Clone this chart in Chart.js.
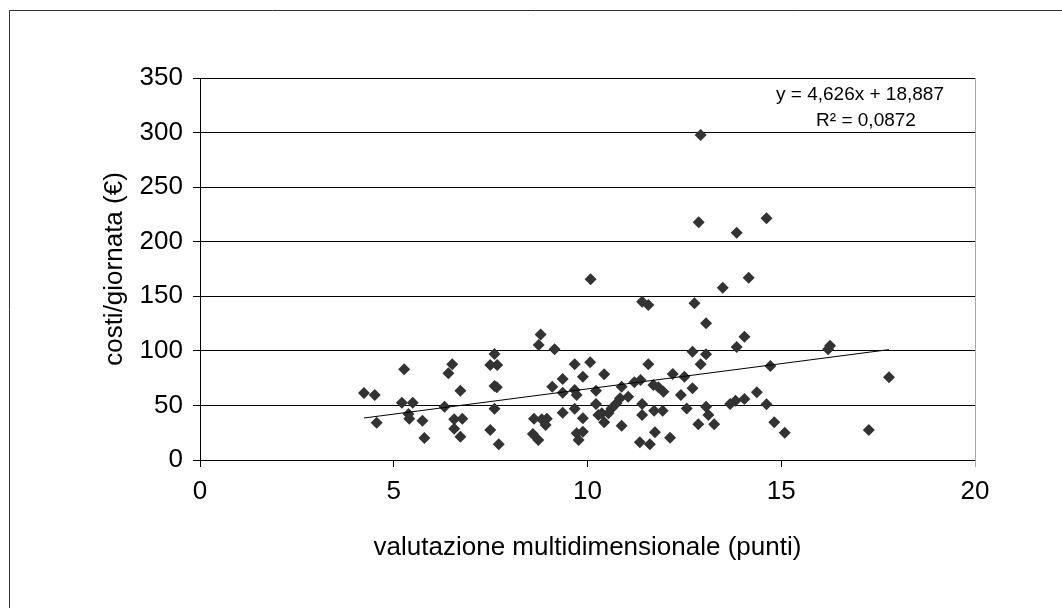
<!DOCTYPE html>
<html>
<head>
<meta charset="utf-8">
<script src="https://cdn.jsdelivr.net/npm/chart.js@4.4.0/dist/chart.umd.min.js"></script>
<style>
  html, body { margin: 0; padding: 0; background: #fff; }
</style>
</head>
<body>
<canvas id="chart" width="1062" height="608"></canvas>
<script>
// valutazione multidimensionale (punti)
const punteggi = [
    4.23, 4.51, 4.56, 5.27, 5.21, 5.49, 5.38, 5.40, 5.74, 5.79,
    6.31, 6.41, 6.51, 6.72, 6.56, 6.77, 6.56, 6.72, 7.60, 7.49,
    7.67, 7.60, 7.66, 7.60, 7.49, 7.71, 8.79, 8.74, 9.15, 9.67,
    9.88, 9.36, 9.09, 9.36, 9.67, 9.72, 9.67, 9.36, 9.88, 8.62,
    8.82, 8.95, 8.92, 8.59, 8.73, 9.72, 9.88, 9.77, 11.41, 11.57,
    12.76, 13.06, 14.05, 13.85, 12.71, 13.06, 12.92, 10.07, 10.43, 11.57,
    14.72, 12.20, 12.50, 11.21, 11.37, 10.88, 11.70, 11.83, 11.96, 12.71,
    12.41, 14.37, 14.05, 13.82, 13.68, 14.62, 10.22, 10.22, 10.84, 11.05,
    10.75, 10.62, 10.54, 10.37, 10.28, 10.43, 11.41, 11.41, 11.72, 11.94,
    12.56, 13.06, 13.12, 12.86, 13.27, 10.88, 14.82, 11.74, 11.35, 11.61,
    12.13, 16.26, 16.21, 17.78, 15.09, 17.26, 12.92, 12.87, 14.62, 13.85,
    10.08, 14.16, 13.49
];

// costi/giornata (€)
const costi = [
    61.4, 59.6, 34.2, 83.1, 52.5, 52.5, 42.1, 37.9, 36.0, 20.2,
    48.9, 79.4, 87.7, 63.5, 37.3, 37.9, 28.7, 21.4, 97.1, 87.0,
    87.0, 67.8, 66.6, 47.0, 27.5, 14.4, 115.1, 105.4, 101.4, 87.7,
    76.3, 74.2, 67.2, 61.7, 64.1, 59.6, 47.0, 43.4, 38.2, 37.9,
    37.3, 37.9, 32.1, 23.8, 18.3, 24.4, 25.9, 18.3, 145.0, 142.0,
    143.6, 125.2, 113.0, 103.5, 99.2, 96.8, 87.7, 89.5, 78.5, 87.7,
    86.1, 78.8, 76.3, 71.2, 73.3, 67.2, 68.7, 66.6, 62.6, 65.7,
    59.6, 62.0, 55.9, 54.4, 51.3, 51.0, 63.5, 51.3, 56.5, 58.0,
    51.9, 47.3, 42.8, 42.8, 41.2, 34.5, 51.3, 41.2, 45.2, 45.2,
    47.3, 48.8, 41.2, 32.7, 32.7, 31.4, 34.5, 25.4, 16.2, 14.4,
    20.4, 104.7, 101.4, 75.8, 25.0, 27.5, 297.8, 217.8, 221.4, 208.3,
    165.6, 167.0, 157.9
];

// axis ticks
const xTicks = [0, 5, 10, 15, 20];
const yTicks = [0, 50, 100, 150, 200, 250, 300, 350];

// linear trendline as shown on the chart
const trendSlope = 4.626;
const trendIntercept = 18.887;
const trendLabel = ['y = 4,626x + 18,887', 'R² = 0,0872'];

const FONT = "'Liberation Sans', Arial, sans-serif";

const points = punteggi.map((x, i) => ({ x: x, y: costi[i] }));
const xMin = Math.min(...punteggi);
const xMax = Math.max(...punteggi);
const trend = [xMin, xMax].map(x => ({ x: x, y: trendSlope * x + trendIntercept }));

// white background + outer frame
const framePlugin = {
    id: 'frame',
    beforeDraw(chart) {
        const ctx = chart.ctx;
        ctx.save();
        ctx.fillStyle = '#fff';
        ctx.fillRect(0, 0, chart.width, chart.height);
        ctx.strokeStyle = '#333';
        ctx.lineWidth = 1;
        ctx.beginPath();
        ctx.moveTo(9.5, chart.height);
        ctx.lineTo(9.5, 10.5);
        ctx.lineTo(chart.width, 10.5);
        ctx.stroke();
        ctx.restore();
    },
    afterDraw(chart) {
        const ctx = chart.ctx;
        const a = chart.chartArea;
        ctx.save();
        // right border of plot area
        ctx.strokeStyle = '#a8a8a8';
        ctx.lineWidth = 1;
        ctx.beginPath();
        ctx.moveTo(Math.round(a.right) + 0.5, a.top);
        ctx.lineTo(Math.round(a.right) + 0.5, a.bottom + 7);
        ctx.stroke();
        // trendline equation
        ctx.fillStyle = '#000';
        ctx.font = '19px ' + FONT;
        ctx.textAlign = 'center';
        ctx.textBaseline = 'middle';
        ctx.fillText(trendLabel[0], 860, 95);
        ctx.fillText(trendLabel[1], 866, 121);
        ctx.restore();
    }
};

new Chart(document.getElementById('chart'), {
    type: 'scatter',
    data: {
        datasets: [
            {
                type: 'line',
                data: trend,
                borderColor: '#000',
                borderWidth: 1,
                pointRadius: 0,
                fill: false
            },
            {
                data: points,
                pointStyle: 'rectRot',
                pointRadius: 6,
                pointBackgroundColor: '#333',
                pointBorderColor: '#333',
                pointBorderWidth: 0
            }
        ]
    },
    options: {
        responsive: false,
        animation: false,
        layout: { padding: { left: 0, top: 78, right: 87, bottom: 0 } },
        plugins: {
            legend: { display: false },
            tooltip: { enabled: false }
        },
        scales: {
            x: {
                type: 'linear',
                min: 0,
                max: 20,
                afterBuildTicks: s => { s.ticks = xTicks.map(v => ({ value: v })); },
                afterFit: s => { s.height = 148; },
                border: { color: '#000', width: 1 },
                grid: { drawOnChartArea: false, drawTicks: true, tickLength: 7, color: '#000' },
                ticks: { color: '#000', font: { family: FONT, size: 26 }, padding: 9, maxRotation: 0 },
                title: {
                    display: true,
                    text: 'valutazione multidimensionale (punti)',
                    color: '#000',
                    font: { family: FONT, size: 26 },
                    padding: { bottom: 45 }
                }
            },
            y: {
                type: 'linear',
                min: 0,
                max: 350,
                afterBuildTicks: s => { s.ticks = yTicks.map(v => ({ value: v })); },
                afterFit: s => { s.width = 200; },
                border: { color: '#000', width: 1 },
                grid: { color: '#000', lineWidth: 1, tickLength: 7 },
                ticks: { color: '#000', font: { family: FONT, size: 26 }, padding: 10 },
                title: {
                    display: true,
                    text: 'costi/giornata (€)',
                    color: '#000',
                    font: { family: FONT, size: 26 },
                    padding: { top: 99 }
                }
            }
        }
    },
    plugins: [framePlugin]
});
</script>
</body>
</html>
